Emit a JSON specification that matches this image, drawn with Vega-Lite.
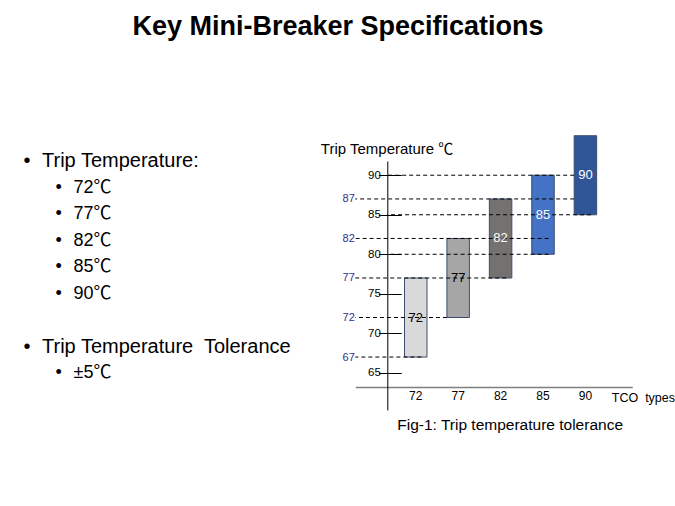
{
  "$schema": "https://vega.github.io/schema/vega-lite/v6.json",
  "background": "white",
  "padding": {"left": 23, "top": 13, "right": 0, "bottom": 0},
  "autosize": {"type": "pad"},
  "bounds": "flush",
  "spacing": 13.3,
  "title": {"text": "Key Mini-Breaker Specifications", "fontSize": 27, "fontWeight": "bold", "font": "Liberation Sans", "anchor": "middle", "baseline": "alphabetic", "offset": 73, "dx": -11, "color": "black"},
  "config": {"view": {"stroke": null}, "font": "Liberation Sans, Noto Sans CJK JP, sans-serif"},
  "datasets": {
    "bullets": [
      {"line": 0, "level": 1, "text": "Trip Temperature:"},
      {"line": 1, "level": 2, "text": "72℃"},
      {"line": 2, "level": 2, "text": "77℃"},
      {"line": 3, "level": 2, "text": "82℃"},
      {"line": 4, "level": 2, "text": "85℃"},
      {"line": 5, "level": 2, "text": "90℃"},
      {"line": 7, "level": 1, "text": "Trip Temperature\u00a0 Tolerance"},
      {"line": 8, "level": 2, "text": "±5℃"}
    ],
    "tco": [
      {"type": "72", "trip": 72, "low": 67, "high": 77},
      {"type": "77", "trip": 77, "low": 72, "high": 82},
      {"type": "82", "trip": 82, "low": 77, "high": 87},
      {"type": "85", "trip": 85, "low": 80, "high": 90},
      {"type": "90", "trip": 90, "low": 85, "high": 95}
    ],
    "guides": [
      {"temp": 90, "to": "90"},
      {"temp": 87, "to": "90"},
      {"temp": 85, "to": "90"},
      {"temp": 82, "to": "85"},
      {"temp": 80, "to": "85"},
      {"temp": 77, "to": "82"},
      {"temp": 72, "to": "77"},
      {"temp": 67, "to": "72"}
    ]
  },
  "hconcat": [
    {
      "width": 300,
      "height": 212,
      "data": {"name": "bullets"},
      "encoding": {
        "x": {"field": "level", "type": "quantitative", "scale": {"domain": [1, 2], "range": [0, 31.6]}, "axis": null},
        "y": {"field": "line", "type": "quantitative", "scale": {"domain": [0, 8], "range": [0, 212]}, "axis": null},
        "size": {"field": "level", "type": "ordinal", "scale": {"domain": [1, 2], "range": [20, 18]}, "legend": null}
      },
      "layer": [
        {"mark": {"type": "text", "text": "•", "align": "center", "baseline": "middle", "dx": -15, "color": "black"}},
        {"mark": {"type": "text", "align": "left", "baseline": "middle", "color": "black"}, "encoding": {"text": {"field": "text"}}}
      ]
    },
    {
      "width": 277,
      "height": 249,
      "title": {"text": "Fig-1: Trip temperature tolerance", "orient": "bottom", "anchor": "start", "frame": "group", "dx": 42, "offset": 8, "fontSize": 15.5, "fontWeight": "normal", "color": "black", "baseline": "top"},
      "resolve": {"scale": {"color": "independent"}, "axis": {"y": "independent", "x": "independent"}},
      "layer": [
        {
          "data": {"name": "tco"},
          "mark": {"type": "bar", "stroke": "#3B4E6E", "strokeWidth": 1},
          "encoding": {
            "x": {
              "field": "type", "type": "nominal",
              "scale": {"domain": ["72", "77", "82", "85", "90"], "paddingInner": 0.47, "paddingOuter": 1, "align": 0.58},
              "axis": {"orient": "bottom", "offset": -23, "domain": true, "domainColor": "#7F7F7F", "domainWidth": 1.5, "ticks": false, "labelPadding": 3, "labelFontSize": 12, "labelColor": "black", "labelAngle": 0, "grid": false,
                "title": "TCO\u00a0 types", "titleFontSize": 12.5, "titleFontWeight": "normal", "titleColor": "black", "titleX": 256, "titleY": 14, "titleAlign": "left", "titleBaseline": "alphabetic"}
            },
            "y": {
              "field": "low", "type": "quantitative",
              "scale": {"domain": [60.3, 91.8], "nice": false, "zero": false},
              "axis": {"orient": "left", "offset": -32, "values": [65, 70, 75, 80, 85, 90], "domain": true, "domainColor": "black", "domainWidth": 1, "ticks": false, "labelPadding": 7, "labelFontSize": 11.5, "labelColor": "black", "grid": false, "title": null}
            },
            "y2": {"field": "high"},
            "color": {"field": "type", "type": "nominal", "scale": {"domain": ["72", "77", "82", "85", "90"], "range": ["#D9D9D9", "#A6A6A6", "#767171", "#4472C4", "#2F5597"]}, "legend": null}
          }
        },
        {
          "data": {"name": "guides"},
          "transform": [{"filter": {"field": "temp", "oneOf": [87, 72]}}],
          "mark": {"type": "rule", "strokeDash": [4, 3], "color": "black", "strokeWidth": 1},
          "encoding": {
            "x": {"field": "to", "type": "nominal", "bandPosition": 0, "axis": null},
            "x2": {"value": 0},
            "y": {"field": "temp", "type": "quantitative", "axis": null}
          }
        },
        {
          "data": {"name": "guides"},
          "transform": [{"filter": {"field": "temp", "oneOf": [82, 77, 67]}}],
          "mark": {"type": "rule", "strokeDash": [4, 3], "color": "black", "strokeWidth": 1},
          "encoding": {
            "x": {"field": "to", "type": "nominal", "bandPosition": 0.75, "axis": null},
            "x2": {"value": 0},
            "y": {"field": "temp", "type": "quantitative", "axis": null}
          }
        },
        {
          "data": {"name": "guides"},
          "transform": [{"filter": {"field": "temp", "oneOf": [90]}}],
          "mark": {"type": "rule", "strokeDash": [4, 3], "color": "black", "strokeWidth": 1},
          "encoding": {
            "x": {"field": "to", "type": "nominal", "bandPosition": 0, "axis": null},
            "x2": {"value": 32},
            "y": {"field": "temp", "type": "quantitative",
              "axis": {"orient": "left", "offset": -46, "values": [65, 70, 75, 80, 85, 90], "domain": false, "ticks": true, "tickSize": 23, "tickColor": "black", "tickWidth": 1, "labels": false, "grid": false, "title": null}}
          }
        },
        {
          "data": {"name": "guides"},
          "transform": [{"filter": {"field": "temp", "oneOf": [85, 80]}}],
          "mark": {"type": "rule", "strokeDash": [4, 3], "color": "black", "strokeWidth": 1},
          "encoding": {
            "x": {"field": "to", "type": "nominal", "bandPosition": 0.75, "axis": null},
            "x2": {"value": 32},
            "y": {"field": "temp", "type": "quantitative", "axis": null}
          }
        },
        {
          "data": {"name": "tco"},
          "mark": {"type": "text", "fontSize": 13, "baseline": "middle", "align": "center"},
          "encoding": {
            "x": {"field": "type", "type": "nominal", "axis": null},
            "y": {"field": "trip", "type": "quantitative",
              "axis": {"orient": "left", "offset": 0, "values": [67, 72, 77, 82, 87], "domain": false, "ticks": false, "labelPadding": 1, "labelFontSize": 11, "labelColor": "#2E3092", "grid": false,
                "title": "Trip Temperature ℃", "titleAngle": 0, "titleAlign": "left", "titleBaseline": "alphabetic", "titleX": -35, "titleY": -8, "titleFontSize": 15, "titleFontWeight": "normal", "titleColor": "black"}},
            "text": {"field": "type"},
            "color": {"field": "type", "type": "nominal", "scale": {"domain": ["72", "77", "82", "85", "90"], "range": ["black", "black", "white", "white", "white"]}, "legend": null}
          }
        }
      ]
    }
  ]
}
